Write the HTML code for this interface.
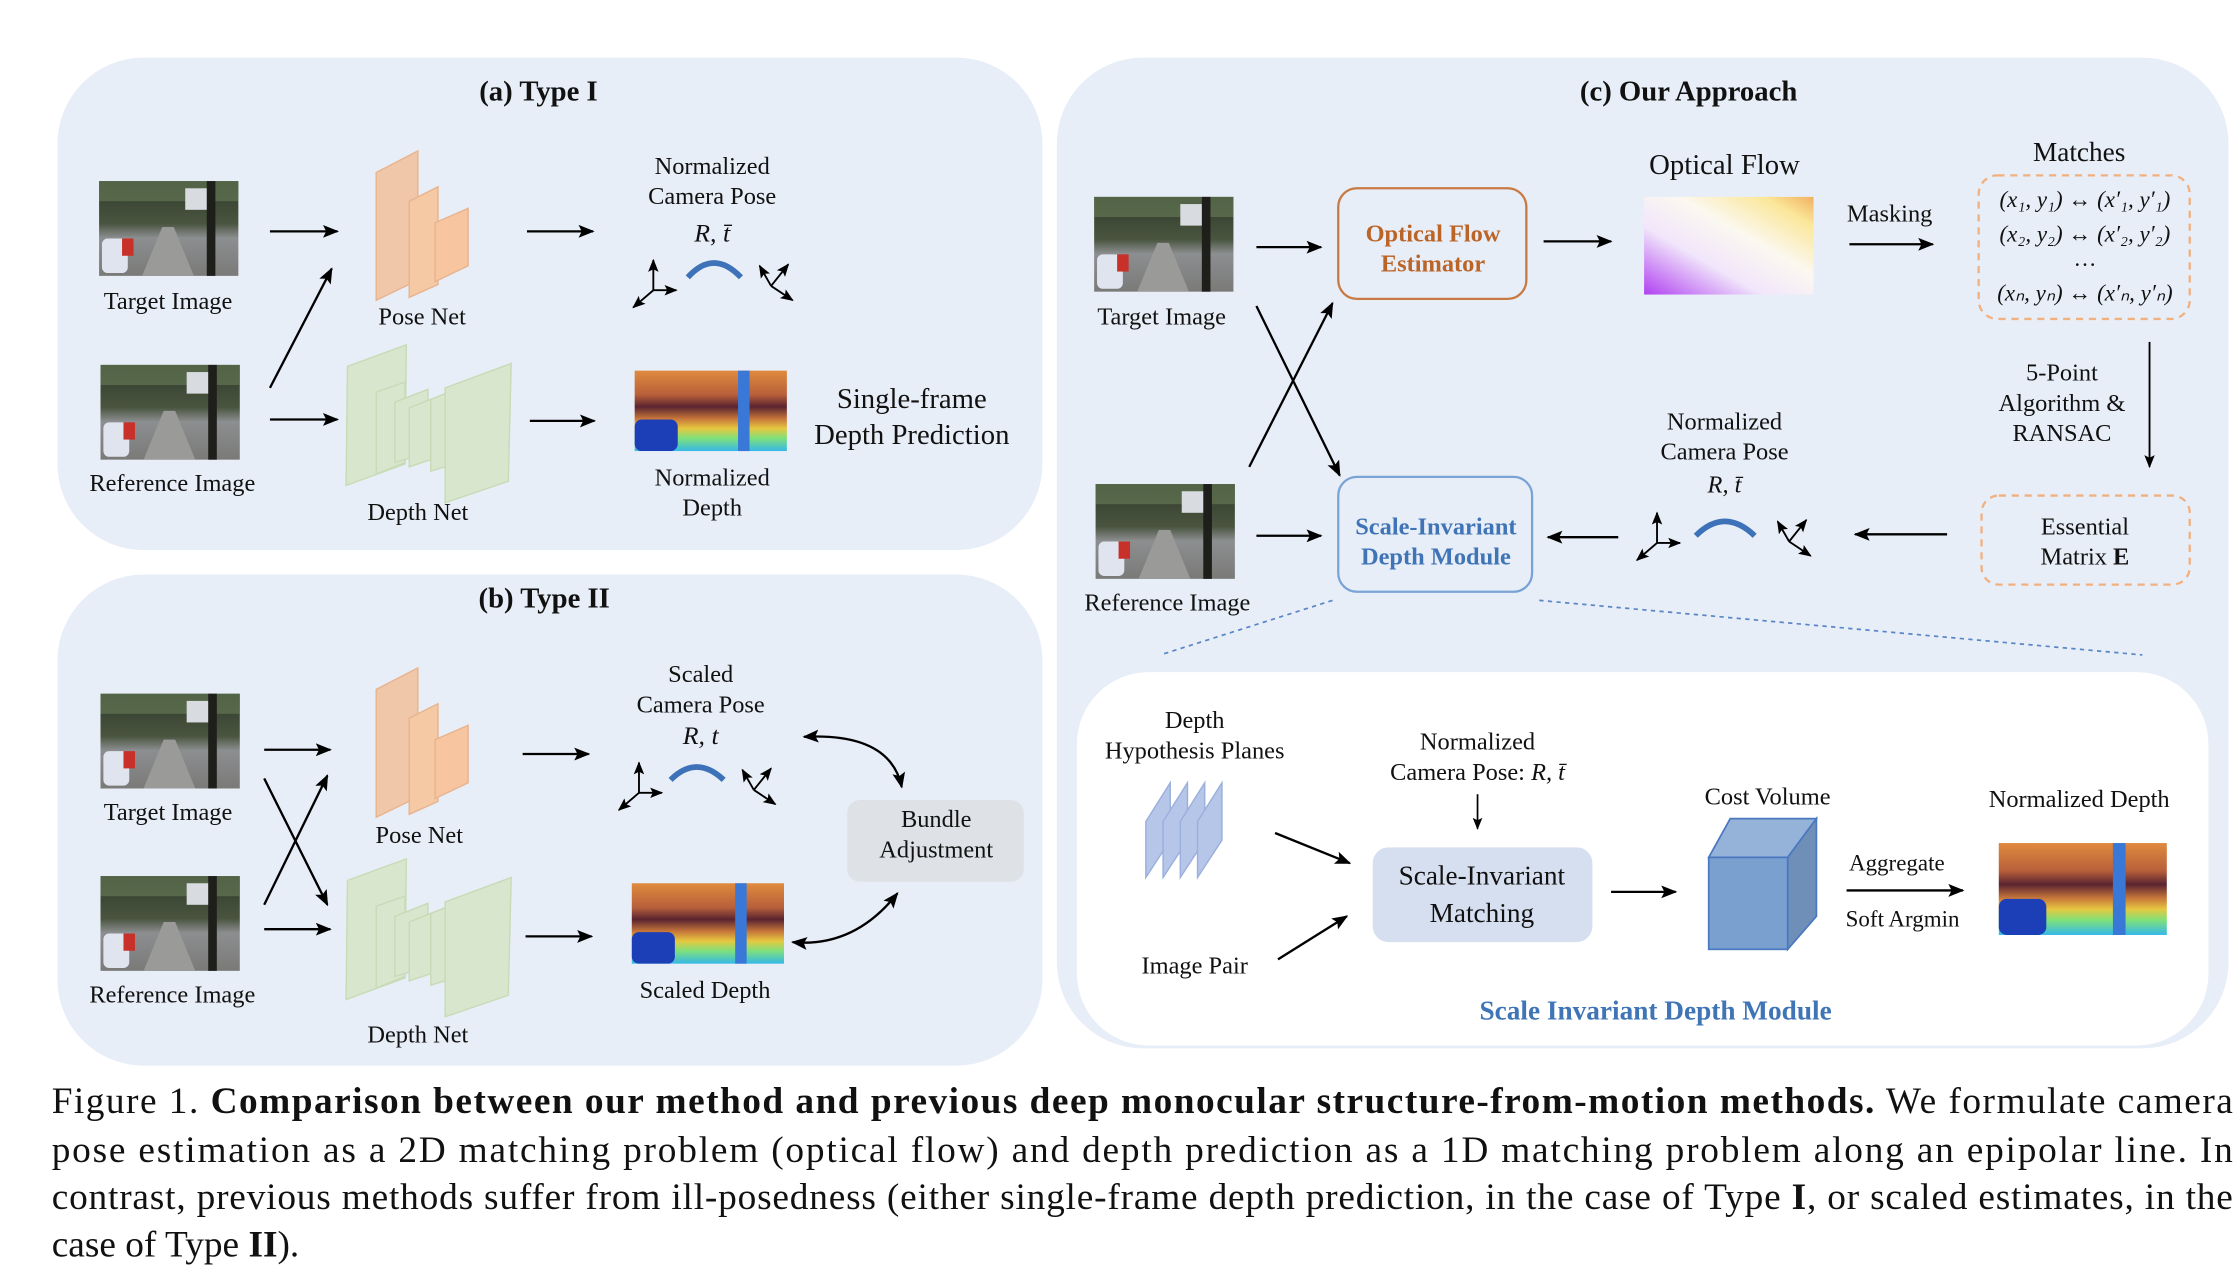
<!DOCTYPE html>
<html><head><meta charset="utf-8"><style>
html,body{margin:0;padding:0;background:#fff;}
svg{display:block;}
text{font-family:"Liberation Serif",serif;fill:#111;}
</style></head><body>
<svg width="2240" height="1274" viewBox="0 0 1560 887" xmlns="http://www.w3.org/2000/svg">
<defs>
<marker id="ah" viewBox="0 0 10 10" refX="9" refY="5" markerWidth="7" markerHeight="7" orient="auto-start-reverse"><path d="M0,1 L10,5 L0,9 L2,5 z" fill="#000"/></marker>
<linearGradient id="sky" x1="0" y1="0" x2="0" y2="1">
<stop offset="0" stop-color="#2e3b2a"/><stop offset="0.45" stop-color="#4a5540"/><stop offset="0.6" stop-color="#8c8e90"/><stop offset="1" stop-color="#7a7a78"/></linearGradient>
<linearGradient id="dep" x1="0" y1="0" x2="0" y2="1">
<stop offset="0" stop-color="#e08a3e"/><stop offset="0.3" stop-color="#b8603a"/><stop offset="0.45" stop-color="#5a2430"/><stop offset="0.6" stop-color="#c8773a"/><stop offset="0.72" stop-color="#e6c840"/><stop offset="0.84" stop-color="#7fe07a"/><stop offset="1" stop-color="#35b8e8"/></linearGradient>
<linearGradient id="flow" x1="0" y1="1" x2="1" y2="0">
<stop offset="0" stop-color="#b040f0"/><stop offset="0.35" stop-color="#f1e6fb"/><stop offset="0.6" stop-color="#fbf8f0"/><stop offset="0.85" stop-color="#fbe79a"/><stop offset="1" stop-color="#f2b060"/></linearGradient>
<g id="img">
<rect width="97" height="66" fill="url(#sky)"/>
<rect x="0" y="0" width="97" height="14" fill="#6a7f5a" opacity="0.6"/>
<rect x="60" y="5" width="20" height="15" fill="#d8dce0"/>
<polygon points="30,66 44,32 52,32 66,66" fill="#9a9a98"/>
<rect x="75" y="0" width="6" height="66" fill="#1e1e1a"/>
<rect x="2" y="40" width="18" height="24" fill="#dfe4ee" rx="4"/>
<rect x="16" y="40" width="8" height="12" fill="#c8302a"/>
</g>
<g id="dimg">
<rect width="106" height="56" fill="url(#dep)"/>
<rect x="0" y="34" width="30" height="22" fill="#1c3fb8" rx="5"/>
<rect x="72" y="0" width="8" height="56" fill="#3a78d8"/>
</g>
<g id="axA" stroke="#000" stroke-width="1.3" fill="none">
<line x1="15" y1="22" x2="15" y2="1" marker-end="url(#ah)"/>
<line x1="15" y1="22" x2="31" y2="22" marker-end="url(#ah)"/>
<line x1="15" y1="22" x2="1" y2="34" marker-end="url(#ah)"/>
</g>
<g id="axB" stroke="#000" stroke-width="1.3" fill="none">
<line x1="9" y1="17" x2="21" y2="2" marker-end="url(#ah)"/>
<line x1="9" y1="17" x2="1" y2="3" marker-end="url(#ah)"/>
<line x1="9" y1="17" x2="24" y2="27" marker-end="url(#ah)"/>
</g>
<g id="pose">
<polygon points="262,120 291,105 291,195 262,209" fill="#f0c7a8" stroke="#e8b490"/>
<polygon points="285,140 305,130 305,198 285,207" fill="#f5c9a4" stroke="#e8b490"/>
<polygon points="303,155 326,145 326,185 303,196" fill="#f7c6a0" stroke="#e8b490"/>
</g>
<g id="depthnet" fill="#d8e6cc" stroke="#c6dbb4" opacity="0.95">
<polygon points="242,255 283,240 282,323 241,338"/>
<polygon points="262,273 282,266 282,322 262,330"/>
<polygon points="275,280 298,271 298,315 275,322"/>
<polygon points="285,284 300,278 300,320 285,325"/>
<polygon points="300,278 320,270 320,322 300,328"/>
<polygon points="310,270 356,253 354,335 310,350"/>
</g>
</defs>

<rect x="40" y="40" width="686" height="343" rx="60" fill="#e8eef7"/>
<rect x="40" y="400" width="686" height="342" rx="60" fill="#e8eef7"/>
<rect x="736" y="40" width="816" height="690" rx="60" fill="#e8eef7"/>
<rect x="750" y="468" width="788" height="260" rx="50" fill="#fff"/>

<text x="375" y="70" font-size="20" font-weight="bold" text-anchor="middle">(a) Type I</text>
<use href="#img" x="69" y="126"/>
<text x="117" y="215" font-size="17" text-anchor="middle">Target Image</text>
<use href="#img" x="70" y="254"/>
<text x="120" y="342" font-size="17" text-anchor="middle">Reference Image</text>
<g stroke="#000" stroke-width="1.6" marker-end="url(#ah)">
<line x1="188" y1="161" x2="235" y2="161"/>
<line x1="188" y1="292" x2="235" y2="292"/>
<line x1="188" y1="270" x2="231" y2="187"/>
<line x1="367" y1="161" x2="413" y2="161"/>
<line x1="369" y1="293" x2="414" y2="293"/>
</g>
<use href="#pose"/>
<text x="294" y="226" font-size="17" text-anchor="middle">Pose Net</text>
<use href="#depthnet"/>
<text x="291" y="362" font-size="17" text-anchor="middle">Depth Net</text>
<text x="496" y="121" font-size="17" text-anchor="middle">Normalized</text>
<text x="496" y="142" font-size="17" text-anchor="middle">Camera Pose</text>
<text x="496" y="168" font-size="18" font-style="italic" text-anchor="middle">R, t̄</text>
<use href="#axA" x="440" y="180"/>
<path d="M479,193 Q497,173 516,193" stroke="#3d72b8" stroke-width="4" fill="none"/>
<use href="#axB" x="528" y="182"/>
<use href="#dimg" x="442" y="258"/>
<text x="496" y="338" font-size="17" text-anchor="middle">Normalized</text>
<text x="496" y="359" font-size="17" text-anchor="middle">Depth</text>
<text x="635" y="284" font-size="20" text-anchor="middle">Single-frame</text>
<text x="635" y="309" font-size="20" text-anchor="middle">Depth Prediction</text>

<text x="379" y="423" font-size="20" font-weight="bold" text-anchor="middle">(b) Type II</text>
<use href="#img" x="70" y="483"/>
<text x="117" y="571" font-size="17" text-anchor="middle">Target Image</text>
<use href="#img" x="70" y="610"/>
<text x="120" y="698" font-size="17" text-anchor="middle">Reference Image</text>
<g stroke="#000" stroke-width="1.6" marker-end="url(#ah)">
<line x1="184" y1="522" x2="230" y2="522"/>
<line x1="184" y1="647" x2="230" y2="647"/>
<line x1="184" y1="630" x2="228" y2="540"/>
<line x1="184" y1="542" x2="228" y2="630"/>
<line x1="364" y1="525" x2="410" y2="525"/>
<line x1="366" y1="652" x2="412" y2="652"/>
</g>
<use href="#pose" y="360"/>
<text x="292" y="587" font-size="17" text-anchor="middle">Pose Net</text>
<use href="#depthnet" y="358"/>
<text x="291" y="726" font-size="17" text-anchor="middle">Depth Net</text>
<text x="488" y="475" font-size="17" text-anchor="middle">Scaled</text>
<text x="488" y="496" font-size="17" text-anchor="middle">Camera Pose</text>
<text x="488" y="518" font-size="18" font-style="italic" text-anchor="middle">R, t</text>
<use href="#axA" x="430" y="530"/>
<path d="M467,543 Q485,525 504,543" stroke="#3d72b8" stroke-width="4" fill="none"/>
<use href="#axB" x="516" y="533"/>
<use href="#dimg" x="440" y="615"/>
<text x="491" y="695" font-size="17" text-anchor="middle">Scaled Depth</text>
<rect x="590" y="557" width="123" height="57" rx="9" fill="#dee2e7"/>
<text x="652" y="576" font-size="17" text-anchor="middle">Bundle</text>
<text x="652" y="597" font-size="17" text-anchor="middle">Adjustment</text>
<path d="M560,513 Q620,510 628,548" stroke="#000" stroke-width="1.6" fill="none" marker-start="url(#ah)" marker-end="url(#ah)"/>
<path d="M552,656 Q595,660 625,622" stroke="#000" stroke-width="1.6" fill="none" marker-start="url(#ah)" marker-end="url(#ah)"/>

<text x="1176" y="70" font-size="20" font-weight="bold" text-anchor="middle">(c) Our Approach</text>
<use href="#img" x="762" y="137"/>
<text x="809" y="226" font-size="17" text-anchor="middle">Target Image</text>
<use href="#img" x="763" y="337"/>
<text x="813" y="425" font-size="17" text-anchor="middle">Reference Image</text>
<g stroke="#000" stroke-width="1.6" marker-end="url(#ah)">
<line x1="875" y1="172" x2="920" y2="172"/>
<line x1="875" y1="373" x2="920" y2="373"/>
<line x1="870" y1="325" x2="928" y2="211"/>
<line x1="875" y1="213" x2="933" y2="331"/>
<line x1="1075" y1="168" x2="1122" y2="168"/>
<line x1="1288" y1="170" x2="1346" y2="170"/>
<line x1="1497" y1="238" x2="1497" y2="325" stroke-width="1.3"/>
<line x1="1356" y1="372" x2="1292" y2="372"/>
<line x1="1127" y1="374" x2="1078" y2="374"/>
</g>
<rect x="932" y="131" width="131" height="77" rx="13" fill="#e8eef7" stroke="#c87a45" stroke-width="1.6"/>
<text x="998" y="168" font-size="17" font-weight="bold" text-anchor="middle" style="fill:#bb6428">Optical Flow</text>
<text x="998" y="189" font-size="17" font-weight="bold" text-anchor="middle" style="fill:#bb6428">Estimator</text>
<text x="1201" y="121" font-size="20" text-anchor="middle">Optical Flow</text>
<rect x="1145" y="137" width="118" height="68" fill="url(#flow)"/>
<text x="1316" y="154" font-size="17" text-anchor="middle">Masking</text>
<text x="1448" y="112" font-size="19" text-anchor="middle">Matches</text>
<rect x="1378" y="122" width="147" height="100" rx="13" fill="none" stroke="#f0b080" stroke-width="1.6" stroke-dasharray="5,4"/>
<g font-size="16" font-style="italic" text-anchor="middle">
<text x="1452" y="144">(x₁, y₁) ↔ (x′₁, y′₁)</text>
<text x="1452" y="168">(x₂, y₂) ↔ (x′₂, y′₂)</text>
<text x="1452" y="185" font-style="normal">…</text>
<text x="1452" y="209">(xₙ, yₙ) ↔ (x′ₙ, y′ₙ)</text>
</g>
<text x="1436" y="265" font-size="17" text-anchor="middle">5-Point</text>
<text x="1436" y="286" font-size="17" text-anchor="middle">Algorithm &amp;</text>
<text x="1436" y="307" font-size="17" text-anchor="middle">RANSAC</text>
<rect x="1380" y="345" width="145" height="62" rx="12" fill="none" stroke="#f0b080" stroke-width="1.6" stroke-dasharray="5,4"/>
<text x="1452" y="372" font-size="17" text-anchor="middle">Essential</text>
<text x="1452" y="393" font-size="17" text-anchor="middle">Matrix <tspan font-weight="bold">E</tspan></text>
<text x="1201" y="299" font-size="17" text-anchor="middle">Normalized</text>
<text x="1201" y="320" font-size="17" text-anchor="middle">Camera Pose</text>
<text x="1201" y="343" font-size="17" font-style="italic" text-anchor="middle">R, t̄</text>
<use href="#axA" x="1139" y="356"/>
<path d="M1181,373 Q1201,353 1222,373" stroke="#3d72b8" stroke-width="4" fill="none"/>
<use href="#axB" x="1237" y="360"/>
<rect x="932" y="332" width="135" height="80" rx="13" fill="#e8eef7" stroke="#7aa3d6" stroke-width="1.6"/>
<text x="1000" y="372" font-size="17" font-weight="bold" text-anchor="middle" style="fill:#3f74b6">Scale-Invariant</text>
<text x="1000" y="393" font-size="17" font-weight="bold" text-anchor="middle" style="fill:#3f74b6">Depth Module</text>
<line x1="928" y1="418" x2="808" y2="456" stroke="#5a86c8" stroke-width="1.2" stroke-dasharray="3,3"/>
<line x1="1072" y1="418" x2="1492" y2="456" stroke="#5a86c8" stroke-width="1.2" stroke-dasharray="3,3"/>

<text x="832" y="507" font-size="17" text-anchor="middle">Depth</text>
<text x="832" y="528" font-size="17" text-anchor="middle">Hypothesis Planes</text>
<g fill="#aabde6" stroke="#8aa2d8" opacity="0.85">
<polygon points="798,572 815,545 815,585 798,611"/>
<polygon points="810,572 827,545 827,585 810,611"/>
<polygon points="822,572 839,545 839,585 822,611"/>
<polygon points="834,572 851,545 851,585 834,611"/>
</g>
<text x="832" y="678" font-size="17" text-anchor="middle">Image Pair</text>
<g stroke="#000" stroke-width="1.6" marker-end="url(#ah)">
<line x1="888" y1="580" x2="940" y2="601"/>
<line x1="890" y1="668" x2="938" y2="638"/>
<line x1="1029" y1="553" x2="1029" y2="577" stroke-width="1.2"/>
<line x1="1122" y1="621" x2="1167" y2="621"/>
<line x1="1286" y1="620" x2="1367" y2="620"/>
</g>
<text x="1029" y="522" font-size="17" text-anchor="middle">Normalized</text>
<text x="1029" y="543" font-size="17" text-anchor="middle">Camera Pose:  <tspan font-style="italic">R, t̄</tspan></text>
<rect x="956" y="590" width="153" height="66" rx="11" fill="#d6dff0"/>
<text x="1032" y="616" font-size="19" text-anchor="middle">Scale-Invariant</text>
<text x="1032" y="642" font-size="19" text-anchor="middle">Matching</text>
<text x="1231" y="560" font-size="17" text-anchor="middle">Cost Volume</text>
<polygon points="1190,597 1205,570 1265,570 1245,597" fill="#95b2d8" stroke="#4a78c0" stroke-width="1.2"/>
<polygon points="1245,597 1265,570 1265,638 1245,661" fill="#6f8fb8" stroke="#4a78c0" stroke-width="1.2"/>
<rect x="1190" y="597" width="55" height="64" fill="#7aa0d0" stroke="#4a78c0" stroke-width="1.2"/>
<text x="1321" y="606" font-size="16" text-anchor="middle">Aggregate</text>
<text x="1325" y="645" font-size="16" text-anchor="middle">Soft Argmin</text>
<g transform="translate(1392,587) scale(1.104,1.143)"><use href="#dimg"/></g>
<text x="1448" y="562" font-size="17" text-anchor="middle">Normalized Depth</text>
<text x="1153" y="710" font-size="19" font-weight="bold" text-anchor="middle" style="fill:#3f74b6">Scale Invariant Depth Module</text>

<g font-size="26">
<text x="36" y="775" textLength="1519" lengthAdjust="spacing">Figure 1. <tspan font-weight="bold">Comparison between our method and previous deep monocular structure-from-motion methods.</tspan> We formulate camera</text>
<text x="36" y="809" textLength="1519" lengthAdjust="spacing">pose estimation as a 2D matching problem (optical flow) and depth prediction as a 1D matching problem along an epipolar line. In</text>
<text x="36" y="842" textLength="1519" lengthAdjust="spacing">contrast, previous methods suffer from ill-posedness (either single-frame depth prediction, in the case of Type <tspan font-weight="bold">I</tspan>, or scaled estimates, in the</text>
<text x="36" y="875">case of Type <tspan font-weight="bold">II</tspan>).</text>
</g>
</svg>
</body></html>
